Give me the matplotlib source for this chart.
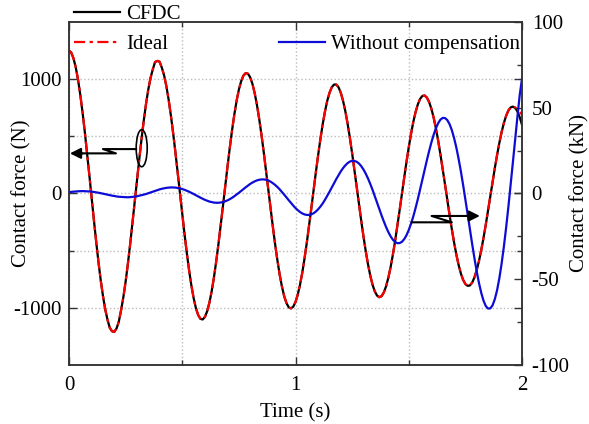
import numpy as np
import matplotlib
matplotlib.use('Agg')
import matplotlib.pyplot as plt
from matplotlib.patches import Ellipse

plt.rcParams['font.family'] = ['Liberation Serif', 'DejaVu Serif']
plt.rcParams['font.size'] = 15
plt.rcParams['axes.unicode_minus'] = False

# time axis (s), sampled every 0.01 s
time = np.linspace(0, 2, 201)

# contact force with CFDC (N)
cfdc = [1250, 1232, 1181, 1102, 994, 861, 707, 535, 350, 157,
        -39, -234, -421, -598, -758, -897, -1014, -1104, -1175, -1205,
        -1210, -1180, -1120, -1020, -907, -770, -614, -444, -263, -75,
        113, 297, 473, 637, 783, 909, 1011, 1086, 1150, 1160,
        1152, 1100, 1032, 937, 819, 680, 525, 357, 180, 0,
        -179, -354, -518, -668, -801, -912, -1000, -1062, -1096, -1102,
        -1080, -1030, -954, -854, -733, -593, -439, -275, -104, 69,
        239, 402, 554, 692, 811, 909, 982, 1031, 1053, 1048,
        1016, 958, 876, 772, 649, 509, 358, 198, 33, -131,
        -291, -443, -583, -708, -813, -898, -958, -995, -1005, -990,
        -949, -884, -798, -691, -566, -429, -281, -126, 31, 187,
        336, 477, 605, 716, 809, 880, 929, 953, 953, 929,
        881, 810, 720, 611, 488, 352, 208, 60, -89, -235,
        -374, -503, -618, -717, -797, -856, -893, -907, -898, -865,
        -811, -736, -643, -534, -412, -280, -142, 0, 140, 276,
        404, 521, 625, 711, 779, 827, 853, 857, 839, 800,
        741, 663, 569, 460, 340, 213, 81, -53, -184, -310,
        -427, -533, -624, -699, -755, -792, -808, -804, -779, -734,
        -671, -591, -496, -389, -273, -151, -26, 100, 222, 337,
        443, 537, 617, 680, 726, 753, 760, 748, 717, 667,
        601]

# ideal contact force (N)
ideal = [1250, 1232, 1181, 1102, 994, 861, 707, 535, 350, 157,
         -39, -234, -421, -598, -758, -897, -1014, -1104, -1175, -1205,
         -1210, -1180, -1120, -1020, -907, -770, -614, -444, -263, -75,
         113, 297, 473, 637, 783, 909, 1011, 1086, 1150, 1160,
         1152, 1100, 1032, 937, 819, 680, 525, 357, 180, 0,
         -179, -354, -518, -668, -801, -912, -1000, -1062, -1096, -1102,
         -1080, -1030, -954, -854, -733, -593, -439, -275, -104, 69,
         239, 402, 554, 692, 811, 909, 982, 1031, 1053, 1048,
         1016, 958, 876, 772, 649, 509, 358, 198, 33, -131,
         -291, -443, -583, -708, -813, -898, -958, -995, -1005, -990,
         -949, -884, -798, -691, -566, -429, -281, -126, 31, 187,
         336, 477, 605, 716, 809, 880, 929, 953, 953, 929,
         881, 810, 720, 611, 488, 352, 208, 60, -89, -235,
         -374, -503, -618, -717, -797, -856, -893, -907, -898, -865,
         -811, -736, -643, -534, -412, -280, -142, 0, 140, 276,
         404, 521, 625, 711, 779, 827, 853, 857, 839, 800,
         741, 663, 569, 460, 340, 213, 81, -53, -184, -310,
         -427, -533, -624, -699, -755, -792, -808, -804, -779, -734,
         -671, -591, -496, -389, -273, -151, -26, 100, 222, 337,
         443, 537, 617, 680, 728, 755, 762, 752, 735, 712,
         690]

# contact force without compensation (kN)
without_comp = [0.8, 0.95, 1.1, 1.2, 1.3, 1.35, 1.4, 1.35, 1.3, 1.2,
                1.1, 0.9, 0.7, 0.45, 0.2, -0.1, -0.4, -0.7, -1.0, -1.25,
                -1.5, -1.7, -1.9, -2.0, -2.1, -2.15, -2.2, -2.1, -2.0, -1.8,
                -1.6, -1.3, -1.0, -0.65, -0.3, 0.15, 0.6, 1.05, 1.5, 1.95,
                2.4, 2.76, 3.0, 3.3, 3.4, 3.55, 3.5, 3.45, 3.2, 2.98,
                2.6, 2.16, 1.6, 1.05, 0.4, -0.28, -1.0, -1.68, -2.4, -3.04,
                -3.7, -4.2, -4.7, -5.02, -5.3, -5.4, -5.4, -5.24, -5.0, -4.53,
                -4.0, -3.29, -2.5, -1.59, -0.6, 0.42, 1.5, 2.56, 3.6, 4.62,
                5.6, 6.39, 7.1, 7.65, 8.0, 8.21, 8.2, 7.98, 7.6, 6.9,
                6.0, 5.0, 3.8, 2.42, 0.9, -0.64, -2.3, -3.9, -5.5, -7.03,
                -8.5, -9.72, -10.8, -11.64, -12.2, -12.5, -12.5, -12.15, -11.5, -10.5,
                -9.2, -7.62, -5.8, -3.69, -1.4, 0.97, 3.4, 5.93, 8.4, 10.71,
                12.9, 14.8, 16.4, 17.72, 18.6, 19.03, 19.0, 18.5, 17.5, 15.99,
                14.0, 11.59, 8.8, 5.62, 2.2, -1.48, -5.2, -9.03, -12.8, -16.3,
                -19.6, -22.52, -25.0, -26.97, -28.3, -28.97, -28.9, -28.15, -26.6, -24.34,
                -21.3, -17.65, -13.4, -8.55, -3.3, 2.26, 8.0, 13.74, 19.4, 24.8,
                29.8, 34.27, 38.1, 41.04, 43.1, 44.07, 44.0, 42.83, 40.5, 37.03,
                32.4, 26.85, 20.3, 13.01, 5.0, -3.43, -12.1, -20.91, -29.5, -37.74,
                -45.4, -52.16, -57.9, -62.46, -65.6, -67.08, -67.0, -65.2, -61.6, -56.37,
                -49.4, -40.87, -30.9, -19.8, -7.6, 5.22, 18.5, 31.83, 45.0, 57.45,
                67.0]

fig = plt.figure(figsize=(5.89, 4.24), dpi=100)
ax = fig.add_axes([69/589, 1 - 365/424, 453/589, 343/424])
ax2 = ax.twinx()

l1, = ax.plot(time, cfdc, color='black', lw=1.6)
l2, = ax.plot(time, ideal, color='red', lw=1.6, ls=(0, (5, 2, 1.5, 2)))
l3, = ax2.plot(time, without_comp, color='#0c0cd6', lw=1.6)

ax.set_xlim(0, 2)
ax.set_ylim(-1500, 1500)
ax2.set_ylim(-100, 100)
ax.set_xticks([0, 1, 2])
ax.set_xticks([0.5, 1.5], minor=True)
ax.set_yticks([-1000, 0, 1000])
ax.set_yticks([-500, 500], minor=True)
ax2.set_yticks([-100, -50, 0, 50, 100])
ax2.set_yticks([-75, -25, 25, 75], minor=True)

ax.tick_params(which='both', direction='in', top=True, right=True, width=1, color='#333333')
ax.tick_params(which='major', length=6)
ax.tick_params(which='minor', length=3.5)
ax.tick_params(axis='y', pad=5)
ax.tick_params(axis='x', pad=8)
ax2.tick_params(which='both', direction='in', width=1, color='#333333', pad=7)
ax2.tick_params(which='major', length=6)
ax2.tick_params(which='minor', length=3.5)

ax.grid(True, which='both', ls=':', color='#bbbbbb', lw=1)
for a in (ax, ax2):
    for s in a.spines.values():
        s.set_linewidth(1.1)
        s.set_color('#333333')

ax.set_xlabel('Time (s)')
ax.set_ylabel('Contact force (N)')
ax2.set_ylabel('Contact force (kN)')
ax.xaxis.set_label_coords(0.5, -0.112)
ax.yaxis.set_label_coords(-0.083, 0.5)
ax2.yaxis.set_label_coords(1.107, 0.5)

# ellipse + break arrows
ax2.add_patch(Ellipse((0.321, 26.4), 0.0486, 21.6, fill=False, ec='black', lw=1.2))
ax2.plot([0.296, 0.150, 0.207, 0.03], [25.9, 25.9, 23.4, 23.4], color='black', lw=1.5)
ax2.annotate('', xy=(0.004, 23.4), xytext=(0.06, 23.4),
             arrowprops=dict(arrowstyle='-|>', color='black', lw=1.5,
                             mutation_scale=16, shrinkA=0, shrinkB=0))
ax2.plot([1.513, 1.690, 1.601, 1.78], [-16.8, -16.8, -13.1, -13.1], color='black', lw=1.5)
ax2.annotate('', xy=(1.814, -13.1), xytext=(1.75, -13.1),
             arrowprops=dict(arrowstyle='-|>', color='black', lw=1.5,
                             mutation_scale=16, shrinkA=0, shrinkB=0))

fig.legend([l1, l2], ['CFDC', 'Ideal'], loc='center left',
           bbox_to_anchor=(74/589, 1 - 29/424), frameon=False, borderpad=0,
           borderaxespad=0, handlelength=2.2, handletextpad=0.3, labelspacing=0.5)
fig.legend([l3], ['Without compensation'], loc='center right',
           bbox_to_anchor=(520/589, 1 - 44/424), frameon=False, borderpad=0,
           borderaxespad=0, handlelength=2.2, handletextpad=0.3)

fig.savefig('out.png', dpi=100)
